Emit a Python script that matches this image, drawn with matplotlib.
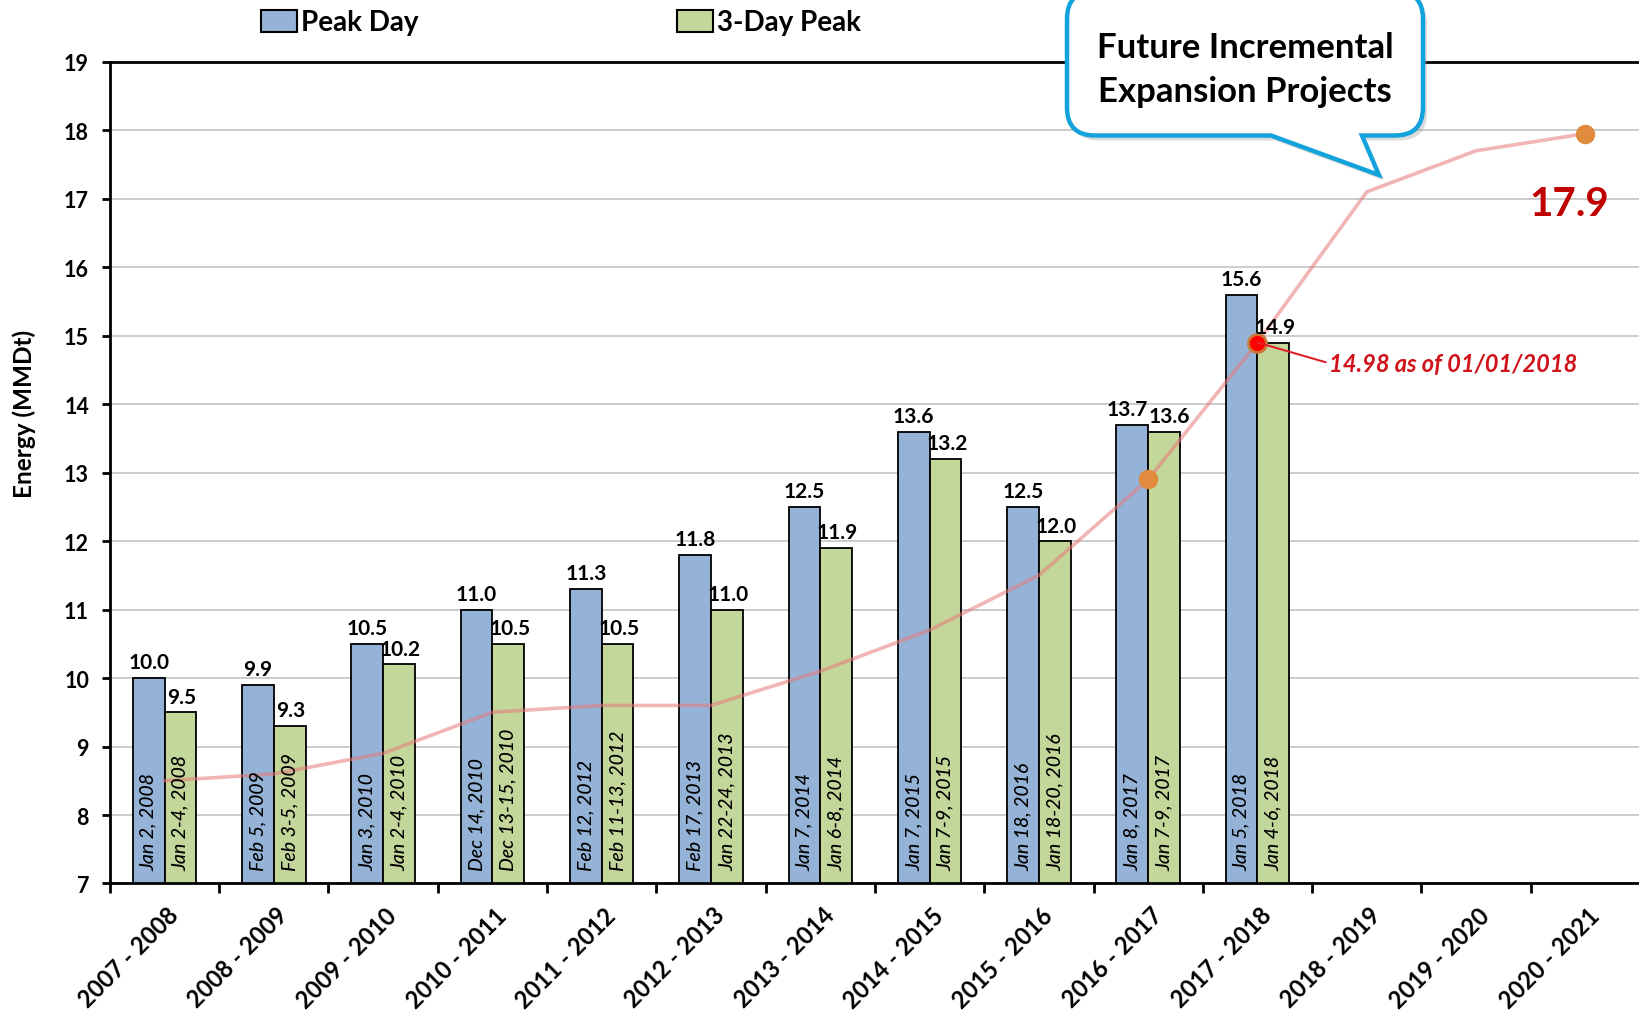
import numpy as np
import matplotlib.pyplot as plt
import matplotlib.transforms as mtransforms
from matplotlib.patches import Patch, PathPatch
from matplotlib.path import Path

plt.rcParams['font.family'] = ['Lato', 'DejaVu Sans']

# data
seasons = ['2007 - 2008', '2008 - 2009', '2009 - 2010', '2010 - 2011', '2011 - 2012',
           '2012 - 2013', '2013 - 2014', '2014 - 2015', '2015 - 2016', '2016 - 2017',
           '2017 - 2018', '2018 - 2019', '2019 - 2020', '2020 - 2021']
peak_day = [10.0, 9.9, 10.5, 11.0, 11.3, 11.8, 12.5, 13.6, 12.5, 13.7, 15.6]
three_day = [9.5, 9.3, 10.2, 10.5, 10.5, 11.0, 11.9, 13.2, 12.0, 13.6, 14.9]
peak_dates = ['Jan 2, 2008', 'Feb 5, 2009', 'Jan 3, 2010', 'Dec 14, 2010', 'Feb 12, 2012',
              'Feb 17, 2013', 'Jan 7, 2014', 'Jan 7, 2015', 'Jan 18, 2016', 'Jan 8, 2017',
              'Jan 5, 2018']
three_day_dates = ['Jan 2-4, 2008', 'Feb 3-5, 2009', 'Jan 2-4, 2010', 'Dec 13-15, 2010',
                   'Feb 11-13, 2012', 'Jan 22-24, 2013', 'Jan 6-8, 2014', 'Jan 7-9, 2015',
                   'Jan 18-20, 2016', 'Jan 7-9, 2017', 'Jan 4-6, 2018']
capacity = [8.5, 8.6, 8.9, 9.5, 9.6, 9.6, 10.1, 10.7, 11.5, 12.9, 14.9, 17.1, 17.7, 17.95]
orange_idx = [9, 13]
current_idx = 10
current_label = '14.98 as of 01/01/2018'
final_label = '17.9'
callout_text = 'Future Incremental\nExpansion Projects'

blue = '#95b3d7'
green = '#c4d79b'

fig = plt.figure(figsize=(16.4, 10.12), dpi=100)
ax = fig.add_axes([0.067, 0.126, 0.933, 0.812])

x = np.arange(len(seasons))
xb = x[:len(peak_day)]
w = 0.29

ax.bar(xb - w / 2, peak_day, w, color=blue, edgecolor='black', linewidth=1.3, zorder=2)
ax.bar(xb + w / 2, three_day, w, color=green, edgecolor='black', linewidth=1.3, zorder=2)

# value labels above bars (pairs that would touch are pushed apart a little)
for i, (xi, v) in enumerate(zip(xb, peak_day)):
    dx = -4 if abs(v - three_day[i]) < 0.3 else 0
    ax.annotate(f'{v:.1f}', (xi - w / 2, v), xytext=(dx, 4), textcoords='offset points',
                ha='center', va='bottom', fontsize=15, fontweight='bold', zorder=5)
for i, (xi, v) in enumerate(zip(xb, three_day)):
    dx = 4 if abs(v - peak_day[i]) < 0.3 else 1
    ax.annotate(f'{v:.1f}', (xi + w / 2, v), xytext=(dx, 4), textcoords='offset points',
                ha='center', va='bottom', fontsize=15, fontweight='bold', zorder=5)

# dates inside bars
for xi, d in zip(xb, peak_dates):
    ax.text(xi - w / 2, 7.2, d, rotation=90, ha='center', va='bottom',
            fontsize=14, style='italic', fontweight='medium', zorder=5)
for xi, d in zip(xb, three_day_dates):
    ax.text(xi + w / 2, 7.2, d, rotation=90, ha='center', va='bottom',
            fontsize=14, style='italic', fontweight='medium', zorder=5)

# capacity line
ax.plot(x, capacity, color='#e8797a', alpha=0.55, lw=2.6, zorder=3)
cap = np.array(capacity)
ax.plot(x[orange_idx], cap[orange_idx], 'o', color='#e08b3e', ms=13, zorder=4)
ax.plot(x[current_idx], cap[current_idx], 'o', mfc='#ff0000', mec='#c77a3a', mew=2, ms=13, zorder=4)

ax.annotate(current_label, xy=(x[current_idx], cap[current_idx]), xytext=(10.65, 14.6),
            color='#d0121b', fontsize=17, fontweight='bold', style='italic',
            ha='left', va='center', zorder=6,
            arrowprops=dict(arrowstyle='-', color='#e0202a', lw=1.5,
                            shrinkA=0, shrinkB=0, relpos=(0, 0.5)))
ax.text(12.85, 16.93, final_label, fontsize=29, fontweight='bold', color='#c00000',
        ha='center', va='center', zorder=6)

# axes styling
ax.set_xlim(-0.5, 13.5)
ax.set_ylim(7, 19)
ax.set_yticks(range(7, 20))
ax.yaxis.grid(True, color='#c8c8c8', lw=1.3)
ax.set_axisbelow(True)
for s in ['left', 'bottom', 'top']:
    ax.spines[s].set_linewidth(2)
ax.spines['right'].set_visible(False)
ax.tick_params(axis='y', length=6, width=2, pad=9, labelsize=15.5)
for lbl in ax.get_yticklabels():
    lbl.set_fontweight('bold')

ax.set_xticks(x)
ax.set_xticklabels(seasons, rotation=45, ha='right', va='top', rotation_mode='anchor',
                   fontsize=17, fontweight='bold')
ax.tick_params(axis='x', which='major', length=0, pad=14)
ax.set_xticks(np.arange(-0.5, 14, 1), minor=True)
ax.tick_params(axis='x', which='minor', length=7, width=2)
offset = mtransforms.ScaledTranslation(0.02, 0, fig.dpi_scale_trans)
for lbl in ax.get_xticklabels():
    lbl.set_transform(lbl.get_transform() + offset)

ax.set_ylabel('Energy (MMDt)', fontsize=17.5, fontweight='bold')
ax.yaxis.set_label_coords(-0.048, 0.573)

# legend
handles = [Patch(facecolor=blue, edgecolor='black', lw=1.5, label='Peak Day'),
           Patch(facecolor=green, edgecolor='black', lw=1.5, label='3-Day Peak')]
fig.legend(handles=handles, loc='center', bbox_to_anchor=(0.342, 0.977), ncol=2,
           frameon=False, prop={'size': 20, 'weight': 'bold'}, handlelength=1.3,
           handleheight=0.85, handletextpad=0.15, columnspacing=9.3)

# callout bubble (inches)
L, R, T, B, r = 10.67, 14.23, 10.2, 8.755, 0.28
tl, tr, tip = 12.71, 13.62, (13.79, 8.36)
verts = [(L + r, T), (R - r, T), (R, T), (R, T - r), (R, B + r), (R, B), (R - r, B),
         (tr, B), tip, (tl, B), (L + r, B), (L, B), (L, B + r), (L, T - r), (L, T),
         (L + r, T), (L + r, T)]
codes = [Path.MOVETO, Path.LINETO, Path.CURVE3, Path.CURVE3, Path.LINETO, Path.CURVE3,
         Path.CURVE3, Path.LINETO, Path.LINETO, Path.LINETO, Path.LINETO, Path.CURVE3,
         Path.CURVE3, Path.LINETO, Path.CURVE3, Path.CURVE3, Path.CLOSEPOLY]
bubble = Path(verts, codes)
shadow_tr = fig.dpi_scale_trans + mtransforms.ScaledTranslation(0.04, -0.05, fig.dpi_scale_trans)
fig.add_artist(PathPatch(bubble, facecolor='#999999', edgecolor='none', alpha=0.35,
                         transform=shadow_tr, zorder=4))
fig.add_artist(PathPatch(bubble, facecolor='white', edgecolor='#12a2dc', lw=3.2,
                         transform=fig.dpi_scale_trans, zorder=5))
fig.text((L + R) / 2, 9.42, callout_text, transform=fig.dpi_scale_trans, ha='center',
         va='center', fontsize=25, fontweight='bold', linespacing=1.45, zorder=6)

fig.savefig('out.png', dpi=100)
